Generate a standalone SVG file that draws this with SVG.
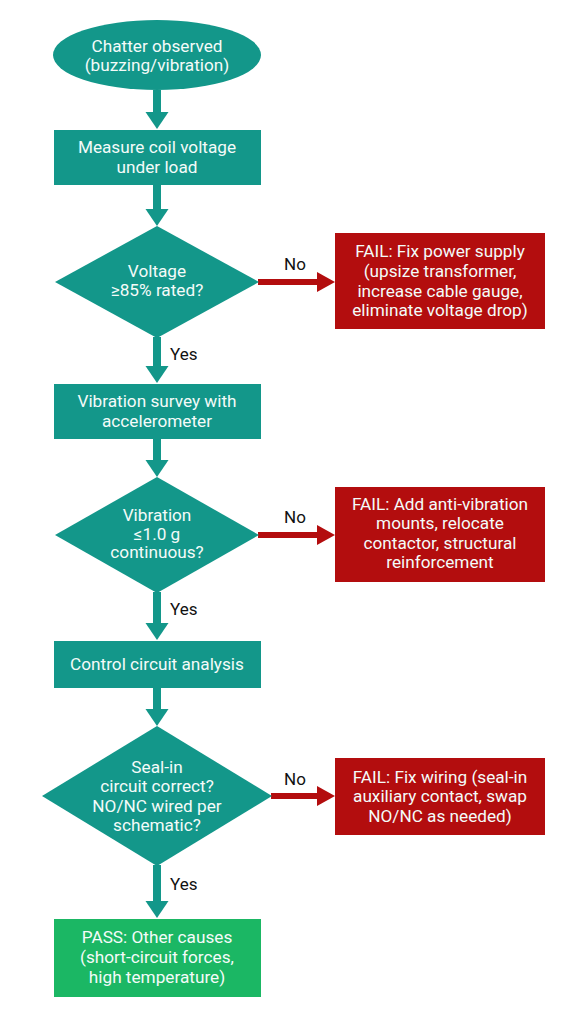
<svg xmlns="http://www.w3.org/2000/svg" width="572" height="1024" viewBox="0 0 572 1024">
<defs>
<style>
.bg{fill:#ffffff}
.teal{fill:#13978a}
.red{fill:#b30d0e}
.green{fill:#1bb764}
.t{font-family:Roboto,"Liberation Sans",sans-serif;font-size:17.2px;fill:#f4fbf9;text-anchor:middle}
.lbl{font-family:Roboto,"Liberation Sans",sans-serif;font-size:17px;fill:#111111}
.ct{stroke:#13978a;stroke-width:8;fill:none;marker-end:url(#ha)}
.cr{stroke:#b30d0e;stroke-width:6;fill:none;marker-end:url(#hr)}
</style>
<marker id="ha" markerUnits="userSpaceOnUse" markerWidth="20" markerHeight="26" refX="0" refY="12" orient="auto" overflow="visible">
<path d="M0,0.5 L17,12 L0,23.5 z" fill="#13978a"/>
</marker>
<marker id="hr" markerUnits="userSpaceOnUse" markerWidth="20" markerHeight="24" refX="0" refY="10" orient="auto" overflow="visible">
<path d="M0,0 L18,10 L0,20 z" fill="#b30d0e"/>
</marker>
</defs>
<rect class="bg" x="0" y="0" width="572" height="1024"/>

<g id="connectors">
<line class="ct" x1="157" y1="90" x2="157" y2="112"/>
<line class="ct" x1="157" y1="185" x2="157" y2="209"/>
<line class="ct" x1="157" y1="337" x2="157" y2="366"/>
<line class="ct" x1="157" y1="439" x2="157" y2="460"/>
<line class="ct" x1="157" y1="592" x2="157" y2="623"/>
<line class="ct" x1="157" y1="688" x2="157" y2="709"/>
<line class="ct" x1="157" y1="865" x2="157" y2="901"/>
<line class="cr" x1="258" y1="282" x2="317" y2="282"/>
<line class="cr" x1="258" y1="535" x2="317" y2="535"/>
<line class="cr" x1="271" y1="796" x2="317" y2="796"/>
<text class="lbl" x="295" y="270" text-anchor="middle">No</text>
<text class="lbl" x="295" y="523" text-anchor="middle">No</text>
<text class="lbl" x="295" y="785" text-anchor="middle">No</text>
<text class="lbl" x="170" y="360">Yes</text>
<text class="lbl" x="170" y="615">Yes</text>
<text class="lbl" x="170" y="890">Yes</text>
</g>

<g id="start">
<ellipse class="teal" cx="157" cy="55" rx="104" ry="35"/>
<text class="t" x="157" y="52">Chatter observed</text>
<text class="t" x="157" y="71">(buzzing/vibration)</text>
</g>

<g id="measure">
<rect class="teal" x="54" y="130" width="207" height="55"/>
<text class="t" x="157" y="153">Measure coil voltage</text>
<text class="t" x="157" y="173">under load</text>
</g>

<g id="dec-voltage">
<polygon class="teal" points="157,226 259,282 157,338 55,282"/>
<text class="t" x="157" y="277">Voltage</text>
<text class="t" x="157" y="296">≥85% rated?</text>
</g>

<g id="fail-power">
<rect class="red" x="335" y="233" width="210" height="96"/>
<text class="t" x="440" y="257">FAIL: Fix power supply</text>
<text class="t" x="440" y="277">(upsize transformer,</text>
<text class="t" x="440" y="297">increase cable gauge,</text>
<text class="t" x="440" y="316">eliminate voltage drop)</text>
</g>

<g id="vib-survey">
<rect class="teal" x="54" y="384" width="207" height="55"/>
<text class="t" x="157" y="407">Vibration survey with</text>
<text class="t" x="157" y="427">accelerometer</text>
</g>

<g id="dec-vibration">
<polygon class="teal" points="157,477 259,535 157,593 55,535"/>
<text class="t" x="157" y="521">Vibration</text>
<text class="t" x="157" y="540">≤1.0 g</text>
<text class="t" x="157" y="558">continuous?</text>
</g>

<g id="fail-vibration">
<rect class="red" x="335" y="487" width="210" height="95"/>
<text class="t" x="440" y="510">FAIL: Add anti-vibration</text>
<text class="t" x="440" y="529">mounts, relocate</text>
<text class="t" x="440" y="549">contactor, structural</text>
<text class="t" x="440" y="568">reinforcement</text>
</g>

<g id="control">
<rect class="teal" x="54" y="641" width="207" height="47"/>
<text class="t" x="157" y="670">Control circuit analysis</text>
</g>

<g id="dec-sealin">
<polygon class="teal" points="157,726 272,796 157,866 42,796"/>
<text class="t" x="157" y="773">Seal-in</text>
<text class="t" x="157" y="792">circuit correct?</text>
<text class="t" x="157" y="812">NO/NC wired per</text>
<text class="t" x="157" y="831">schematic?</text>
</g>

<g id="fail-wiring">
<rect class="red" x="335" y="758" width="210" height="77"/>
<text class="t" x="440" y="783">FAIL: Fix wiring (seal-in</text>
<text class="t" x="440" y="802">auxiliary contact, swap</text>
<text class="t" x="440" y="822">NO/NC as needed)</text>
</g>

<g id="pass">
<rect class="green" x="54" y="919" width="207" height="78"/>
<text class="t" x="157" y="943">PASS: Other causes</text>
<text class="t" x="157" y="963">(short-circuit forces,</text>
<text class="t" x="157" y="983">high temperature)</text>
</g>
</svg>
